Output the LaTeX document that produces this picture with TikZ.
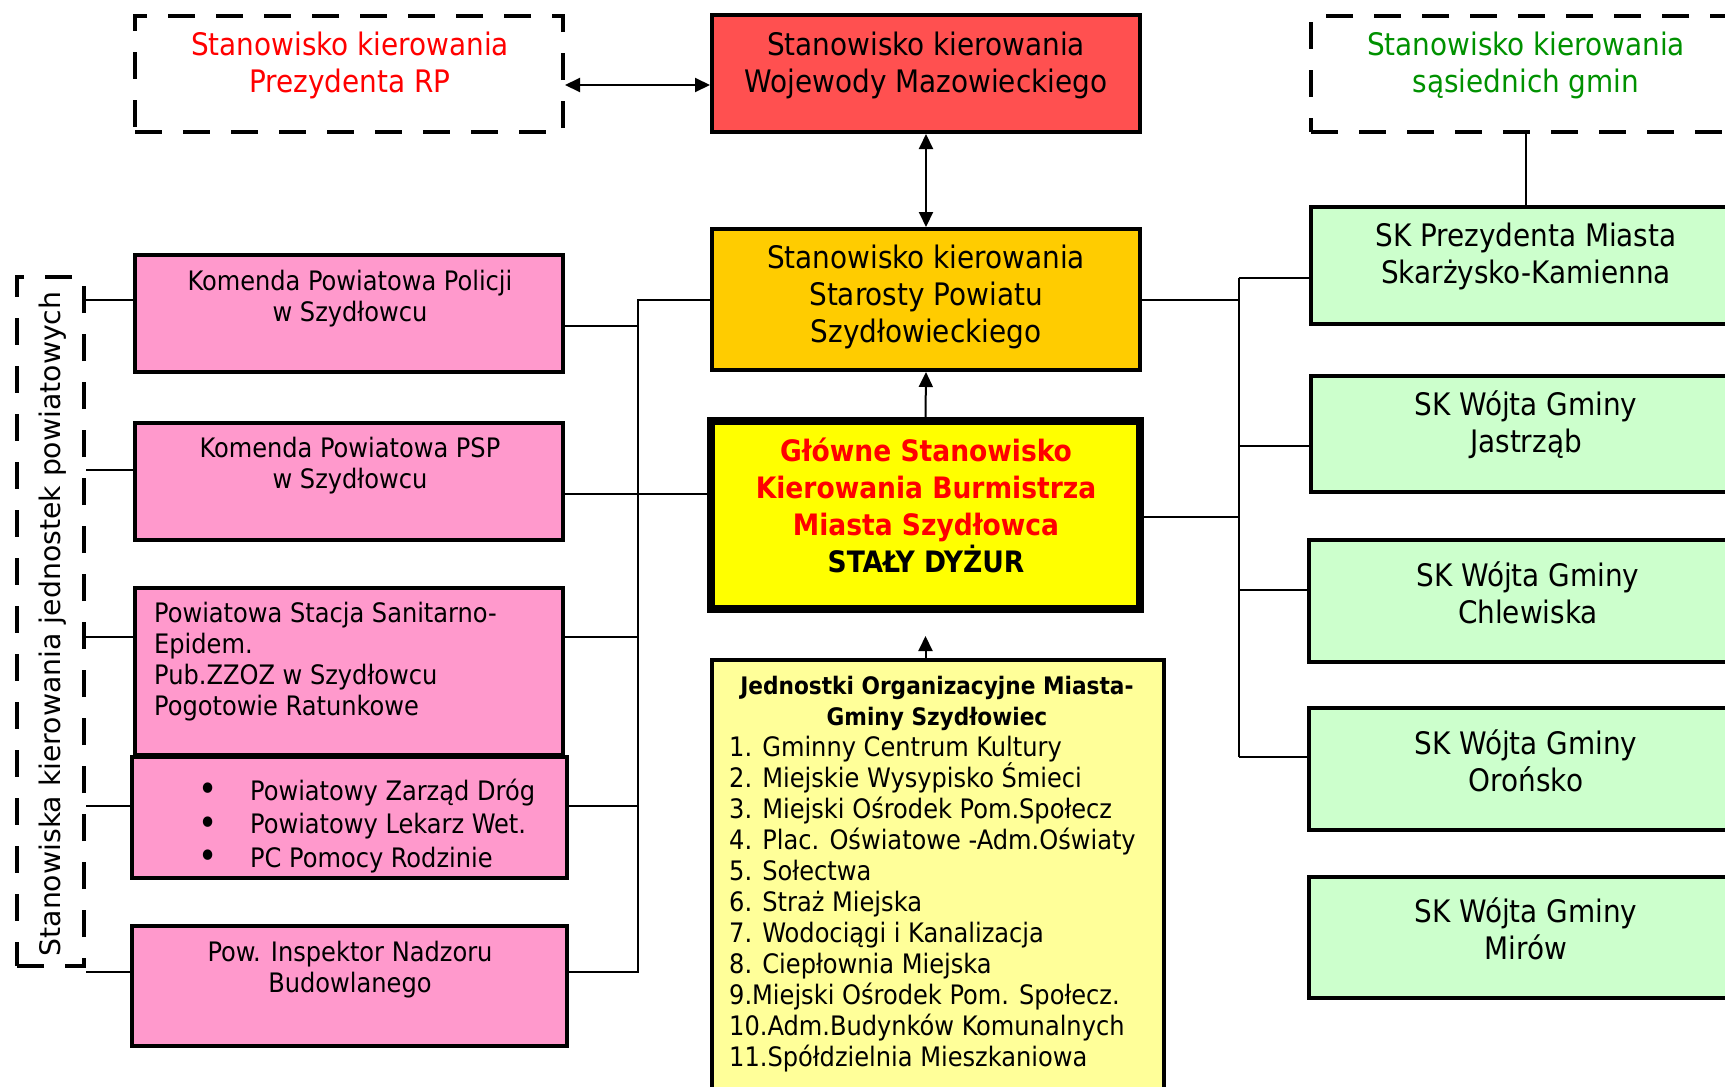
\documentclass[tikz,border=0pt]{standalone}
\usepackage{fontspec}
\setmainfont{DejaVu Sans Condensed}
\newfontfamily\rotfont{DejaVu Sans}
\usetikzlibrary{arrows.meta}
\definecolor{redbox}{RGB}{255,80,80}
\definecolor{orangebox}{RGB}{255,204,0}
\definecolor{mainyellow}{RGB}{255,255,0}
\definecolor{lightyellow}{RGB}{255,255,153}
\definecolor{pinkbox}{RGB}{255,153,204}
\definecolor{greenbox}{RGB}{204,255,204}
\definecolor{greentext}{RGB}{0,145,0}
\definecolor{redtext}{RGB}{255,0,0}
\begin{document}
\begin{tikzpicture}[x=1pt,y=-1pt,
  box/.style={draw=black, line width=4pt, inner sep=0pt},
  dbox/.style={draw=black, line width=4pt, inner sep=0pt, dash pattern=on 27pt off 21pt},
  conn/.style={draw=black, line width=2pt},
  >={Triangle[length=15pt,width=14pt]},
  big/.style={font=\fontsize{31}{37}\selectfont, align=center, inner sep=0pt},
  small/.style={font=\fontsize{26.8}{31}\selectfont, align=center, inner sep=0pt}]
\useasboundingbox (0,0) rectangle (1725,1087);
\clip (0,0) rectangle (1725,1087);
\fill[white] (0,0) rectangle (1725,1087);

% top row
\node[dbox, minimum width=428pt, minimum height=116pt] (prez) at (349,74) {};
\node[big, text=redtext] (prezT) at (350,65) {Stanowisko kierowania\\Prezydenta RP};
\node[box, fill=redbox, minimum width=428pt, minimum height=117pt] (woj) at (926,73.5) {};
\node[big] (wojT) at (926,65) {Stanowisko kierowania\\Wojewody Mazowieckiego};
\node[dbox, minimum width=467pt, minimum height=116pt] (sas) at (1544.5,74) {};
\node[big, text=greentext] (sasT) at (1526,65) {Stanowisko kierowania\\sąsiednich gmin};

% centre column
\node[box, fill=orangebox, minimum width=428pt, minimum height=141pt] (st) at (926,299.5) {};
\node[big] (stT) at (926,296.5) {Stanowisko kierowania\\Starosty Powiatu\\Szydłowieckiego};
\node[box, line width=8pt, fill=mainyellow, minimum width=429pt, minimum height=188pt] (main) at (925.5,515) {};
\node[font=\fontsize{29.5}{37}\selectfont\bfseries, align=center, inner sep=0pt] (mainT) at (926,505.5)
  {\textcolor{redtext}{Główne Stanowisko}\\\textcolor{redtext}{Kierowania Burmistrza}\\\textcolor{redtext}{Miasta Szydłowca}\\STAŁY DYŻUR};
\node[box, fill=lightyellow, minimum width=452pt, minimum height=448pt] (jed) at (938,884) {};
\node[font=\fontsize{24.1}{31}\selectfont\bfseries, align=center, inner sep=0pt] (jedH) at (937,703)
  {Jednostki Organizacyjne Miasta-\\Gminy Szydłowiec};
\node[small, align=left, anchor=west] (jedL) at (729,904.5)
  {1. Gminny Centrum Kultury\\2. Miejskie Wysypisko Śmieci\\3. Miejski Ośrodek Pom.Społecz\\4. Plac. Oświatowe -Adm.Oświaty\\5. Sołectwa\\6. Straż Miejska\\7. Wodociągi i Kanalizacja\\8. Ciepłownia Miejska\\9.Miejski Ośrodek Pom. Społecz.\\10.Adm.Budynków Komunalnych\\11.Spółdzielnia Mieszkaniowa};

% left column
\node[dbox, minimum width=67pt, minimum height=689pt] (lbox) at (50.5,621.5) {};
\node[font=\rotfont\fontsize{28.3}{34}\selectfont, rotate=90, inner sep=0pt] (lboxT) at (53,624) {Stanowiska kierowania jednostek powiatowych};
\node[box, fill=pinkbox, minimum width=428pt, minimum height=117pt] (p1) at (349,313.5) {};
\node[small] (p1T) at (350,299) {Komenda Powiatowa Policji\\w Szydłowcu};
\node[box, fill=pinkbox, minimum width=428pt, minimum height=117pt] (p2) at (349,481.5) {};
\node[small] (p2T) at (350,466) {Komenda Powiatowa PSP\\w Szydłowcu};
\node[box, fill=pinkbox, minimum width=428pt, minimum height=167pt] (p3) at (349,671.5) {};
\node[small, align=left, anchor=west] (p3T) at (154,662) {Powiatowa Stacja Sanitarno-\\Epidem.\\Pub.ZZOZ w Szydłowcu\\Pogotowie Ratunkowe};
\node[box, fill=pinkbox, minimum width=435pt, minimum height=121pt] (p4) at (349.5,817.5) {};
\node[font=\fontsize{36}{33.5}\selectfont, align=center, inner sep=0pt] (p4B) at (208,826) {•\\•\\•};
\node[font=\fontsize{26.8}{33.5}\selectfont, align=left, anchor=west, inner sep=0pt] (p4T) at (250,826) {Powiatowy Zarząd Dróg\\Powiatowy Lekarz Wet.\\PC Pomocy Rodzinie};
\node[box, fill=pinkbox, minimum width=435pt, minimum height=120pt] (p5) at (349.5,986) {};
\node[small] (p5T) at (350,970) {Pow. Inspektor Nadzoru\\Budowlanego};

% right column
\node[box, fill=greenbox, minimum width=467pt, minimum height=117pt] (g1) at (1544.5,265.5) {};
\node[big] (g1T) at (1526,256.5) {SK Prezydenta Miasta\\Skarżysko-Kamienna};
\node[box, fill=greenbox, minimum width=467pt, minimum height=116pt] (g2) at (1544.5,434) {};
\node[big] (g2T) at (1526,425) {SK Wójta Gminy\\Jastrząb};
\node[box, fill=greenbox, minimum width=469pt, minimum height=122pt] (g3) at (1543.5,601) {};
\node[big] (g3T) at (1528,593) {SK Wójta Gminy\\Chlewiska};
\node[box, fill=greenbox, minimum width=469pt, minimum height=122pt] (g4) at (1543.5,769) {};
\node[big] (g4T) at (1526,761) {SK Wójta Gminy\\Orońsko};
\node[box, fill=greenbox, minimum width=469pt, minimum height=121pt] (g5) at (1543.5,937.5) {};
\node[big] (g5T) at (1526,929) {SK Wójta Gminy\\Mirów};

% junction coordinates
\coordinate (AH) at (637,85);
\coordinate (LT) at (638,300);
\coordinate (L1) at (638,326);
\coordinate (L2) at (638,494);
\coordinate (L3) at (638,637);
\coordinate (L4) at (638,806);
\coordinate (LB) at (638,972);
\coordinate (K2) at (86,470);
\coordinate (RT) at (1238.6,278);
\coordinate (R0) at (1238.6,300);
\coordinate (R2) at (1238.6,446);
\coordinate (RM) at (1238.6,517);
\coordinate (R3) at (1238.6,590);
\coordinate (RB) at (1238.6,757);

% arrows
\draw[conn, <->] (prez.east |- AH) -- (woj.west |- AH);
\draw[conn, <->] (woj.south) -- (st.north);
\draw[conn, ->] (main.north) -- (st.south);
\draw[conn, ->, shorten >=23pt] (main.south |- jed.north) -- (main.south);

% left bus
\draw[conn] (st.west |- LT) -- (LT) -- (LB) -- (p5.east |- LB);
\draw[conn] (p1.east |- L1) -- (L1);
\draw[conn] (p2.east |- L2) -- (main.west |- L2);
\draw[conn] (p3.east |- L3) -- (L3);
\draw[conn] (p4.east |- L4) -- (L4);

% left short connectors
\draw[conn] (lbox.east |- LT) -- (p1.west |- LT);
\draw[conn] (lbox.east |- K2) -- (p2.west |- K2);
\draw[conn] (lbox.east |- L3) -- (p3.west |- L3);
\draw[conn] (lbox.east |- L4) -- (p4.west |- L4);
\draw[conn] (lbox.east |- LB) -- (p5.west |- LB);

% right bus
\draw[conn] (st.east |- R0) -- (R0);
\draw[conn] (RT) -- (RB);
\draw[conn] (RT) -- (g1.west |- RT);
\draw[conn] (R2) -- (g2.west |- R2);
\draw[conn] (main.east |- RM) -- (RM);
\draw[conn] (R3) -- (g3.west |- R3);
\draw[conn] (RB) -- (g4.west |- RB);
\draw[conn] (sasT |- sas.south) -- (sasT |- g1.north);
\end{tikzpicture}
\end{document}
